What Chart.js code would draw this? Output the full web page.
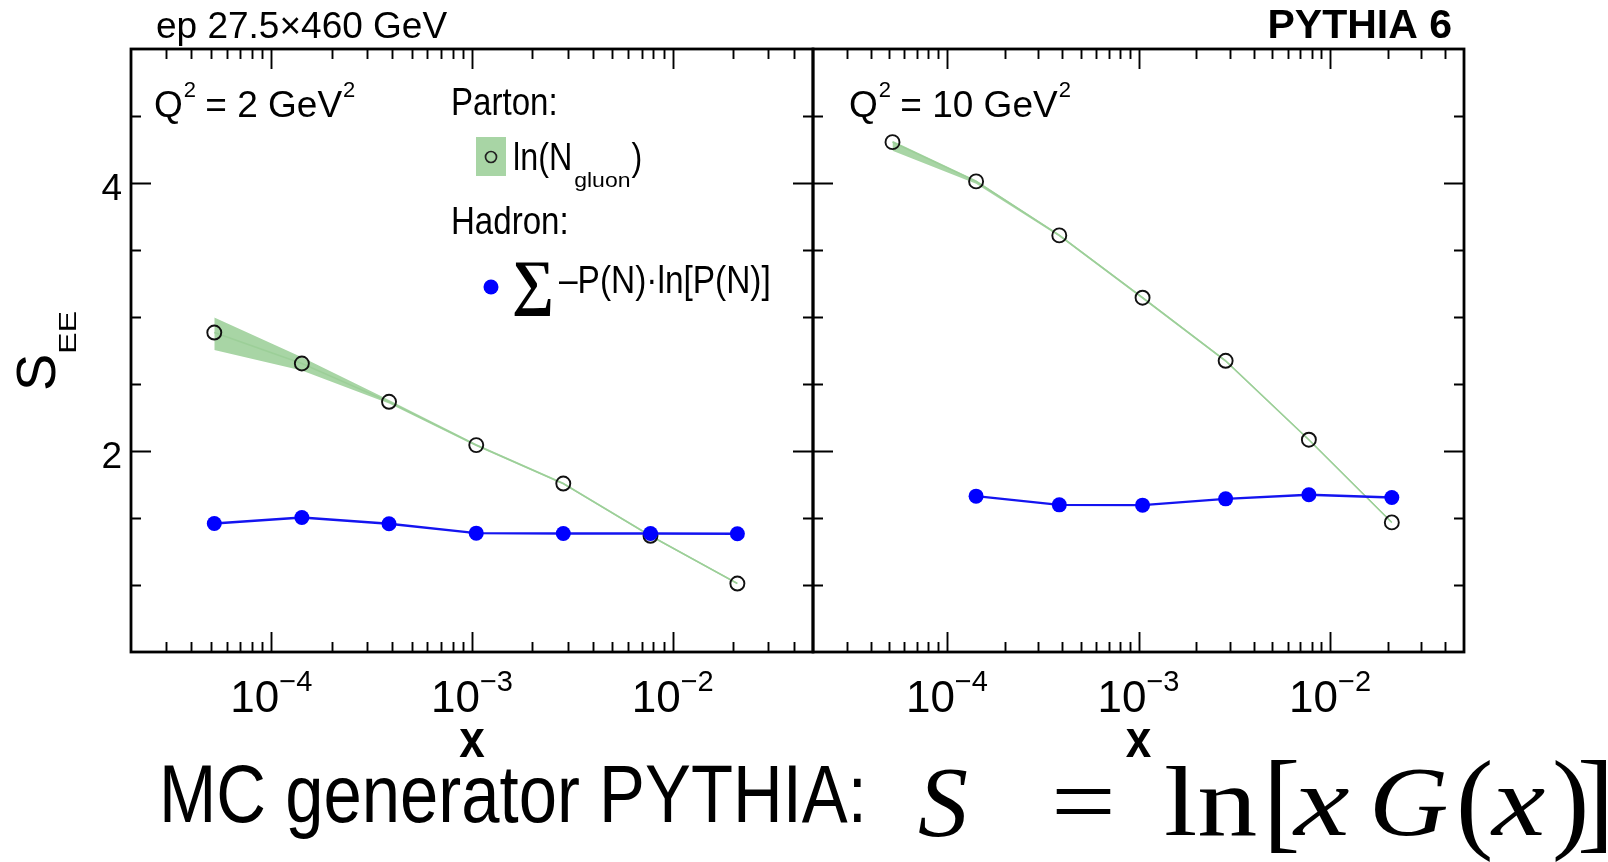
<!DOCTYPE html>
<html>
<head>
<meta charset="utf-8">
<title>S_EE vs x, PYTHIA 6</title>
<script src="https://cdn.jsdelivr.net/npm/chart.js@4.4.1/dist/chart.umd.min.js"></script>
<style>
    html, body { margin: 0; padding: 0; background: #ffffff; }
    #page { position: relative; width: 1608px; height: 862px; overflow: hidden; }
    #page canvas { position: absolute; left: 0; top: 0; }
</style>
</head>
<body>
<div id="page">
    <canvas id="lowQ2" width="1608" height="862"></canvas>
    <canvas id="highQ2" width="1608" height="862"></canvas>
</div>
<script>
// x bins shared by both panels
const xBins = [5.2e-5, 1.42e-4, 3.86e-4, 1.05e-3, 2.85e-3, 7.75e-3, 2.1e-2];

// Q2 = 2 GeV2
const partonLow = [2.884, 2.653, 2.367, 2.044, 1.757, 1.367, 1.011];
const partonLowMin = [2.753, 2.600, 2.355, 2.035, 1.750, 1.360, 1.005];
const partonLowMax = [2.996, 2.700, 2.380, 2.052, 1.765, 1.375, 1.017];
const hadronLow = [1.459, 1.504, 1.457, 1.387, 1.384, 1.384, 1.382];

// Q2 = 10 GeV2
const partonHigh = [4.305, 4.012, 3.609, 3.144, 2.673, 2.084, 1.467];
const partonHighMin = [4.240, 3.995, 3.600, 3.135, 2.665, 2.077, 1.460];
const partonHighMax = [4.315, 4.020, 3.618, 3.152, 2.680, 2.090, 1.473];
const hadronHigh = [null, 1.663, 1.598, 1.596, 1.643, 1.673, 1.653];

// axes
const xMin = 2e-5, xMax = 0.05;
const yMin = 0.5, yMax = 5;
const xMajorTicks = [1e-4, 1e-3, 1e-2];
const xTickExponents = ['\u22124', '\u22123', '\u22122'];
const yMajorTicks = [2, 4];
const yMinorStep = 0.5;

const FONT = '"Liberation Sans", Arial, Helvetica, sans-serif';
const SERIF = '"Liberation Serif", "Times New Roman", serif';
const GREEN_BAND = '#a8d5a5';
const GREEN_LINE = '#9ccf98';
const BLUE = '#0000ff';

function points(values) {
    return xBins.map((x, i) => ({ x: x, y: values[i] })).filter(p => p.y !== null);
}

function text(ctx, str, x, y, size, o = {}) {
    ctx.save();
    ctx.font = (o.italic ? 'italic ' : '') + (o.bold ? 'bold ' : '') + size + 'px ' + (o.family || FONT);
    ctx.textAlign = o.align || 'left';
    ctx.textBaseline = 'alphabetic';
    ctx.fillStyle = '#000';
    ctx.translate(x, y);
    if (o.rotate) ctx.rotate(o.rotate);
    ctx.scale(o.sx || 1, 1);
    ctx.fillText(str, 0, 0);
    const w = ctx.measureText(str).width * (o.sx || 1);
    ctx.restore();
    return w;
}

// "Q^2 = n GeV^2" label
function q2Label(ctx, x, y, value) {
    let px = x;
    px += text(ctx, 'Q', px, y, 37);
    px += text(ctx, '2', px + 1, y - 20, 22);
    px += text(ctx, ' = ' + value + ' GeV', px, y, 37);
    text(ctx, '2', px + 1, y - 20, 22);
}

// inward ticks on all four sides, frame, x labels (ROOT style)
function drawFrame(chart, withYLabels) {
    const { ctx, chartArea: a, scales: { x, y } } = chart;
    ctx.save();
    ctx.strokeStyle = '#000';
    ctx.lineWidth = 1.9;
    ctx.beginPath();
    for (let e = -5; e <= -2; e++) {
        for (let k = 1; k <= 9; k++) {
            const v = k * Math.pow(10, e);
            if (v <= xMin || v >= xMax) continue;
            const px = Math.round(x.getPixelForValue(v)) + 0.5;
            const len = k === 1 ? 20 : 10;
            ctx.moveTo(px, a.bottom); ctx.lineTo(px, a.bottom - len);
            ctx.moveTo(px, a.top); ctx.lineTo(px, a.top + len);
        }
    }
    for (let v = yMin + yMinorStep; v < yMax; v += yMinorStep) {
        const py = Math.round(y.getPixelForValue(v)) + 0.5;
        const len = yMajorTicks.includes(v) ? 20 : 10;
        ctx.moveTo(a.left, py); ctx.lineTo(a.left + len, py);
        ctx.moveTo(a.right, py); ctx.lineTo(a.right - len, py);
    }
    ctx.stroke();
    ctx.lineWidth = 2.8;
    ctx.strokeRect(a.left, a.top, a.right - a.left, a.bottom - a.top);
    ctx.restore();

    // x tick labels 10^n
    xMajorTicks.forEach((v, i) => {
        const cx = x.getPixelForValue(v);
        ctx.save();
        ctx.font = '44px ' + FONT;
        const wBase = ctx.measureText('10').width;
        ctx.font = '29px ' + FONT;
        const wExp = ctx.measureText(xTickExponents[i]).width;
        ctx.restore();
        const left = cx - (wBase + wExp) / 2;
        text(ctx, '10', left, 712, 44);
        text(ctx, xTickExponents[i], left + wBase, 691, 29);
    });
    text(ctx, 'x', (a.left + a.right) / 2, 757, 54, { bold: true, align: 'center', sx: 0.85 });

    if (withYLabels) {
        yMajorTicks.forEach(v => {
            text(ctx, String(v), 122, y.getPixelForValue(v) + 17, 37, { align: 'right' });
        });
    }
}

const decorations = {
    id: 'decorations',
    afterDraw(chart, args, opts) {
        const ctx = chart.ctx;
        drawFrame(chart, opts.panel === 'low');

        if (opts.panel === 'low') {
            text(ctx, 'ep 27.5\u00d7460 GeV', 156, 38, 37);
            q2Label(ctx, 154, 117, '2');

            // axis title S_EE, reading upwards
            text(ctx, 'S', 55, 391, 56, { rotate: -Math.PI / 2 });
            text(ctx, 'EE', 76, 354, 24, { rotate: -Math.PI / 2, sx: 1.35 });

            // legend
            text(ctx, 'Parton:', 451, 115, 38, { sx: 0.87 });
            ctx.save();
            ctx.fillStyle = GREEN_BAND;
            ctx.fillRect(476, 137, 30, 39);
            ctx.strokeStyle = '#222';
            ctx.lineWidth = 1.7;
            ctx.beginPath();
            ctx.arc(491, 157, 5.5, 0, Math.PI * 2);
            ctx.stroke();
            ctx.restore();
            const wLn = text(ctx, 'ln(N', 513, 170, 38, { sx: 0.85 });
            const wSub = text(ctx, 'gluon', 513 + wLn + 2, 187, 20, { sx: 1.15 });
            text(ctx, ')', 513 + wLn + wSub + 3, 170, 38, { sx: 0.85 });

            text(ctx, 'Hadron:', 451, 234, 38, { sx: 0.87 });
            ctx.save();
            ctx.fillStyle = BLUE;
            ctx.beginPath();
            ctx.arc(491, 287, 7.5, 0, Math.PI * 2);
            ctx.fill();
            ctx.restore();
            text(ctx, '\u2211', 512, 303, 62, { family: SERIF, bold: true, sx: 0.95 });
            text(ctx, '\u2013P(N)\u00b7ln[P(N)]', 559, 293, 38, { sx: 0.88 });

            // caption and formula below the panels
            text(ctx, 'MC generator PYTHIA:', 159, 822, 81, { sx: 0.85 });
            text(ctx, 'S', 918, 835, 100, { family: SERIF, italic: true });
            text(ctx, '=', 1051, 835, 100, { family: SERIF, sx: 1.15 });
            text(ctx, 'ln', 1164, 835, 100, { family: SERIF, sx: 1.2 });
            text(ctx, '[', 1263, 838, 112, { family: SERIF });
            text(ctx, 'x', 1294, 835, 100, { family: SERIF, italic: true, sx: 1.25 });
            text(ctx, 'G', 1369, 835, 100, { family: SERIF, italic: true, sx: 1.1 });
            text(ctx, '(', 1456, 838, 112, { family: SERIF });
            text(ctx, 'x', 1492, 835, 100, { family: SERIF, italic: true, sx: 1.2 });
            text(ctx, ')', 1552, 838, 112, { family: SERIF });
            text(ctx, ']', 1577, 838, 112, { family: SERIF });
        } else {
            text(ctx, 'PYTHIA 6', 1452, 38, 41, { bold: true, align: 'right' });
            q2Label(ctx, 849, 117, '10');
        }
    }
};

function makePanel(id, panel, parton, partonMin, partonMax, hadron, padding) {
    return new Chart(document.getElementById(id).getContext('2d'), {
        type: 'line',
        data: {
            datasets: [
                {
                    data: points(partonMin),
                    borderWidth: 0, pointRadius: 0, fill: false, order: 4
                },
                {
                    data: points(partonMax),
                    borderWidth: 0, pointRadius: 0,
                    fill: '-1', backgroundColor: GREEN_BAND, order: 3
                },
                {
                    data: points(parton),
                    borderColor: GREEN_LINE, borderWidth: 1.5,
                    pointRadius: 7, pointBorderWidth: 1.9,
                    pointBorderColor: '#111', pointBackgroundColor: 'rgba(0,0,0,0)',
                    fill: false, order: 2
                },
                {
                    data: points(hadron),
                    borderColor: '#1414f0', borderWidth: 2.4,
                    pointRadius: 7.5, pointBorderWidth: 0,
                    pointBackgroundColor: BLUE,
                    fill: false, order: 1
                }
            ]
        },
        options: {
            responsive: false,
            animation: false,
            events: [],
            layout: { padding: padding },
            elements: { line: { tension: 0 } },
            scales: {
                x: { type: 'logarithmic', min: xMin, max: xMax, display: false },
                y: { type: 'linear', min: yMin, max: yMax, display: false }
            },
            plugins: {
                legend: { display: false },
                tooltip: { enabled: false },
                decorations: { panel: panel }
            }
        },
        plugins: [decorations]
    });
}

makePanel('lowQ2', 'low', partonLow, partonLowMin, partonLowMax, hadronLow,
    { left: 131, right: 1608 - 813, top: 49, bottom: 862 - 652 });
makePanel('highQ2', 'high', partonHigh, partonHighMin, partonHighMax, hadronHigh,
    { left: 813, right: 1608 - 1464, top: 49, bottom: 862 - 652 });
</script>
</body>
</html>
